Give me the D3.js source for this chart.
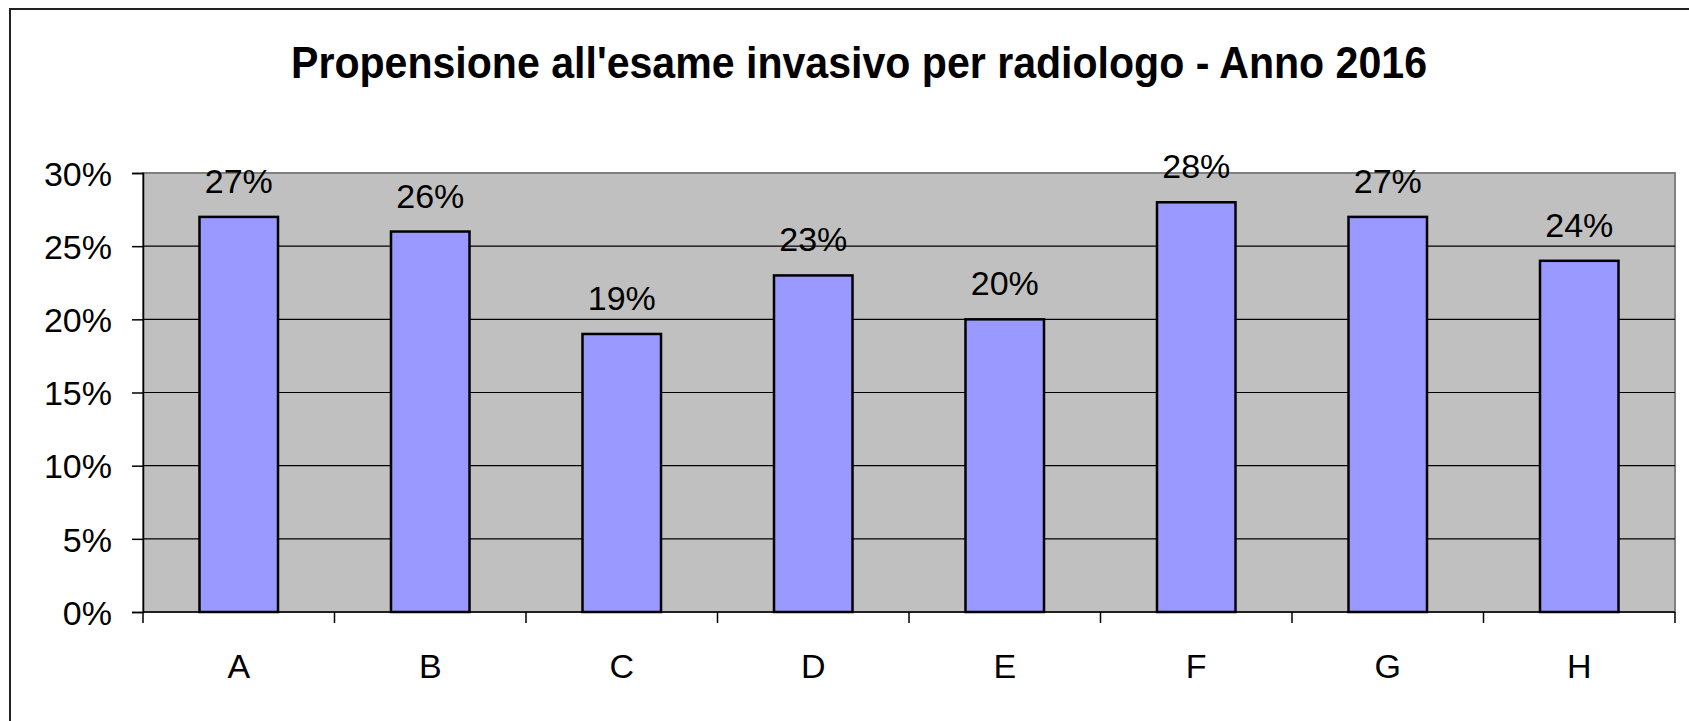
<!DOCTYPE html>
<html>
<head>
<meta charset="utf-8">
<script src="https://cdn.jsdelivr.net/npm/d3@7"></script>
<style>
  body { margin: 0; background: #fff; }
  svg { display: block; }
  text { font-family: "Liberation Sans", Arial, sans-serif; fill: #000; }
</style>
</head>
<body>
<svg id="chart" width="1689" height="721"></svg>
<script>
const categories = ['A', 'B', 'C', 'D', 'E', 'F', 'G', 'H'];
const values = [0.27, 0.26, 0.19, 0.23, 0.20, 0.28, 0.27, 0.24];
const yTicks = [0, 0.05, 0.10, 0.15, 0.20, 0.25, 0.30];
const title = "Propensione all'esame invasivo per radiologo - Anno 2016";

const margin = { top: 173, right: 14, bottom: 109, left: 143 };
const width = 1689, height = 721;
const plotW = width - margin.left - margin.right;
const plotH = height - margin.top - margin.bottom;

const svg = d3.select('#chart');

// outer frame of the chart area
svg.append('rect')
  .attr('x', 10).attr('y', 9)
  .attr('width', width).attr('height', height)
  .attr('fill', 'none')
  .attr('stroke', '#222')
  .attr('stroke-width', 2);

// title is a bit condensed in the original, so squeeze it to its width
svg.append('text')
  .attr('x', 859)
  .attr('y', 78)
  .attr('text-anchor', 'middle')
  .attr('textLength', 1136)
  .attr('lengthAdjust', 'spacingAndGlyphs')
  .style('font-size', '44px')
  .style('font-weight', 'bold')
  .text(title);

const g = svg.append('g').attr('transform', `translate(${margin.left},${margin.top})`);

const x = d3.scaleBand().domain(categories).range([0, plotW]).paddingInner(0.59).paddingOuter(0.295);
const y = d3.scaleLinear().domain([0, 0.3]).range([plotH, 0]);

g.append('rect')
  .attr('width', plotW).attr('height', plotH)
  .attr('fill', '#c0c0c0')
  .attr('stroke', '#808080')
  .attr('stroke-width', 2);

// horizontal gridlines
g.selectAll('.grid')
  .data(yTicks.filter(d => d > 0 && d < 0.3))
  .enter().append('line')
  .attr('x1', 0).attr('x2', plotW)
  .attr('y1', d => y(d)).attr('y2', d => y(d))
  .attr('stroke', '#000')
  .attr('stroke-width', 1.2);

// y axis
const yAxis = d3.axisLeft(y)
  .tickValues(yTicks)
  .tickFormat(d3.format('.0%'))
  .tickSize(11)
  .tickPadding(20);
const yg = g.append('g').call(yAxis);
yg.select('.domain').attr('stroke', '#000').attr('stroke-width', 1.5);
yg.selectAll('.tick line').attr('stroke', '#000').attr('stroke-width', 1.5);
yg.selectAll('.tick text').style('font-size', '34px').attr('dy', '0.36em');

// x axis, ticks sit on category boundaries
const bounds = d3.range(categories.length + 1).map(i => i * plotW / categories.length);
const xg = g.append('g').attr('transform', `translate(0,${plotH})`);
xg.append('line')
  .attr('x1', 0).attr('x2', plotW)
  .attr('stroke', '#000').attr('stroke-width', 1.5);
xg.selectAll('.xtick')
  .data(bounds)
  .enter().append('line')
  .attr('x1', d => d).attr('x2', d => d)
  .attr('y1', 0).attr('y2', 11)
  .attr('stroke', '#000').attr('stroke-width', 1.5);
xg.selectAll('.xlabel')
  .data(categories)
  .enter().append('text')
  .attr('x', d => x(d) + x.bandwidth() / 2)
  .attr('y', 66)
  .attr('text-anchor', 'middle')
  .style('font-size', '34px')
  .text(d => d);

// bars
const data = categories.map((c, i) => ({ cat: c, value: values[i] }));
g.selectAll('.bar')
  .data(data)
  .enter().append('rect')
  .attr('x', d => x(d.cat))
  .attr('y', d => y(d.value))
  .attr('width', x.bandwidth())
  .attr('height', d => plotH - y(d.value))
  .attr('fill', '#9999ff')
  .attr('stroke', '#000')
  .attr('stroke-width', 2.5);

// value labels
g.selectAll('.label')
  .data(data)
  .enter().append('text')
  .attr('x', d => x(d.cat) + x.bandwidth() / 2)
  .attr('y', d => y(d.value) - 24)
  .attr('text-anchor', 'middle')
  .style('font-size', '34px')
  .text(d => d3.format('.0%')(d.value));
</script>
</body>
</html>
